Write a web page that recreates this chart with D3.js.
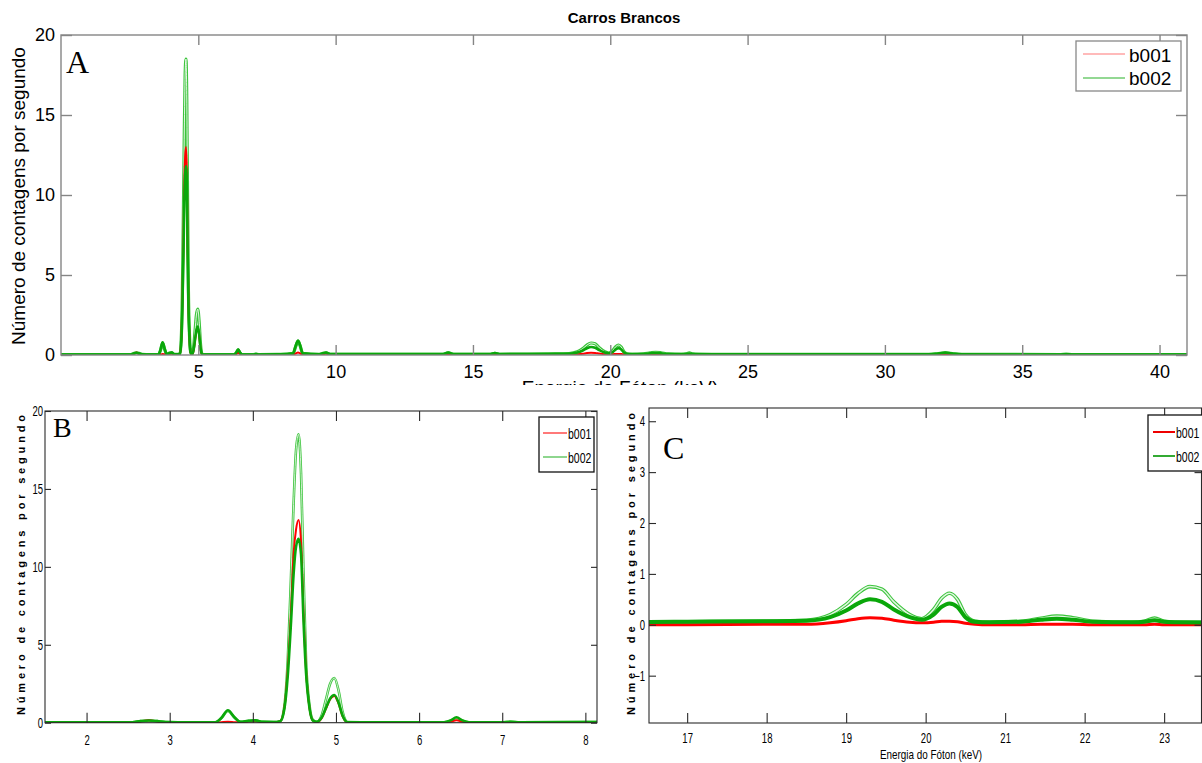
<!DOCTYPE html>
<html><head><meta charset="utf-8">
<script src="https://cdn.jsdelivr.net/npm/d3@7"></script>
<style>
body{margin:0;background:#fff;}
svg{display:block;}
</style></head><body>
<svg id="chart" width="1202" height="763"></svg>
<script>
// ---------- data ----------
const energyKeV = [0,1.0,2.0,2.55,2.65,2.75,2.85,2.95,3.1,3.55,
  3.62,3.7,3.78,3.85,3.95,4.03,4.12,4.25,4.33,4.38,
  4.42,4.46,4.49,4.52,4.55,4.58,4.61,4.64,4.68,4.72,
  4.77,4.83,4.88,4.93,4.98,5.03,5.08,5.14,5.3,6.3,
  6.38,6.45,6.52,6.6,7.0,7.1,7.2,8.0,8.45,8.55,
  8.63,8.71,8.8,9.4,9.55,9.65,9.8,12,13.9,14.1,
  14.3,15.6,15.8,16.0,17.0,18.0,18.5,18.8,19.0,19.15,
  19.3,19.45,19.6,19.8,19.95,20.1,20.2,20.3,20.4,20.5,
  20.62,20.8,21.2,21.45,21.65,21.85,22.1,22.6,22.75,22.88,
  23.0,23.2,24,28,31.6,31.9,32.2,32.5,32.8,36.4,
  36.6,36.8,41];

const b001Main = [0.0,0.0,0.0,0.0,0.08,0.15,0.08,0.01,0.0,0.0,
  0.03,0.06,0.03,0.01,0.07,0.1,0.02,0.01,0.1,1.0,
  3.4,7.2,10.8,12.4,13.0,11.6,7.0,3.4,1.0,0.15,
  0.02,0.3,0.9,1.5,1.72,1.25,0.4,0.01,0.0,0.0,
  0.06,0.15,0.06,0.0,0.0,0.02,0.0,0.0,0.02,0.1,
  0.15,0.1,0.02,0.0,0.05,0.1,0.02,0.0,0.0,0.03,
  0.0,0.0,0.02,0.0,0.0,0.01,0.01,0.04,0.08,0.12,
  0.14,0.13,0.09,0.05,0.04,0.05,0.07,0.07,0.06,0.03,
  0.01,0.0,0.0,0.01,0.01,0.01,0.0,0.0,0.0,0.01,
  0.0,0.0,0.0,0.0,0.0,0.01,0.03,0.01,0.0,0.0,
  0.0,0.0,0.0];

const b002Main = [0.03,0.03,0.03,0.03,0.10,0.14,0.10,0.04,0.03,0.03,
  0.30,0.80,0.35,0.05,0.12,0.15,0.05,0.04,0.10,0.9,
  3.0,6.5,9.5,11.3,11.8,10.8,6.5,3.2,1.0,0.15,
  0.05,0.35,0.95,1.55,1.78,1.30,0.45,0.03,0.03,0.03,
  0.15,0.35,0.15,0.03,0.03,0.06,0.03,0.04,0.10,0.60,
  0.90,0.60,0.10,0.04,0.12,0.15,0.05,0.05,0.05,0.15,
  0.05,0.05,0.12,0.05,0.06,0.07,0.08,0.15,0.28,0.42,
  0.50,0.45,0.30,0.15,0.10,0.20,0.35,0.42,0.35,0.15,
  0.06,0.05,0.06,0.10,0.12,0.10,0.06,0.05,0.06,0.09,
  0.06,0.05,0.04,0.04,0.04,0.08,0.15,0.08,0.04,0.03,
  0.05,0.03,0.03];

const b002High = [0.03,0.03,0.03,0.03,0.10,0.14,0.10,0.04,0.03,0.03,
  0.28,0.75,0.32,0.05,0.12,0.15,0.05,0.04,0.10,1.1,
  4.0,9.5,14.0,17.5,18.5,16.0,9.5,4.0,1.2,0.2,
  0.05,0.5,1.5,2.5,2.87,2.1,0.7,0.04,0.03,0.03,
  0.12,0.30,0.12,0.03,0.03,0.05,0.03,0.04,0.10,0.55,
  0.85,0.55,0.10,0.04,0.10,0.13,0.05,0.05,0.05,0.14,
  0.05,0.05,0.11,0.05,0.06,0.07,0.09,0.2,0.4,0.62,
  0.75,0.70,0.45,0.2,0.12,0.3,0.52,0.62,0.5,0.2,
  0.07,0.05,0.07,0.13,0.17,0.14,0.07,0.05,0.07,0.13,
  0.07,0.05,0.04,0.04,0.04,0.08,0.14,0.08,0.04,0.03,
  0.05,0.03,0.03];

const seriesNames = ["b001", "b002"];
const chartTitle = "Carros Brancos";
const yLabelText = "Número de contagens por segundo";
const xLabelText = "Energia do Fóton (keV)";
const panelLetters = ["A", "B", "C"];
const ticksAx = [5,10,15,20,25,30,35,40];
const ticksAy = [0,5,10,15,20];
const ticksBx = [2,3,4,5,6,7,8];
const ticksBy = [0,5,10,15,20];
const ticksCx = [17,18,19,20,21,22,23];
const ticksCy = [-1,0,1,2,3,4];

// ---------- drawing ----------
const svg = d3.select("#chart");
const SANS = "'Liberation Sans', Arial, sans-serif";
const SERIF = "'Liberation Serif', 'Times New Roman', serif";
const fmt = d3.format("d");

function condense(sel, sx){
  sel.each(function(){
    const t = d3.select(this);
    const x = +t.attr("x") || 0;
    t.attr("x", 0).attr("transform", `translate(${x},0) scale(${sx},1)`);
  });
}

function panel(cfg){
  const x = d3.scaleLinear().domain(cfg.xd).range([cfg.l, cfg.r]);
  const y = d3.scaleLinear().domain(cfg.yd).range([cfg.b, cfg.t]);
  const clipId = "clip" + cfg.id;
  svg.append("clipPath").attr("id", clipId).append("rect")
    .attr("x", cfg.l).attr("y", cfg.t).attr("width", cfg.r - cfg.l).attr("height", cfg.b - cfg.t);
  const lineGen = d3.line().x((d,i) => x(energyKeV[i])).y(d => y(d)).curve(d3.curveMonotoneX);
  const plot = svg.append("g").attr("clip-path", `url(#${clipId})`);
  plot.append("path").attr("d", lineGen(b002High)).attr("fill","none")
    .attr("stroke", "#3bc43b").attr("stroke-width", cfg.hiW);
  plot.append("path").attr("d", lineGen(b002High)).attr("fill","none")
    .attr("stroke", "#fff").attr("stroke-width", cfg.hiInner).attr("stroke-opacity", 0.85);
  plot.append("path").attr("d", lineGen(b001Main)).attr("fill","none")
    .attr("stroke", "#ff0000").attr("stroke-width", cfg.redW).attr("stroke-linejoin","round");
  plot.append("path").attr("d", lineGen(b002Main)).attr("fill","none")
    .attr("stroke", "#0aa70a").attr("stroke-width", cfg.grW).attr("stroke-linejoin","round");

  const ax = svg.append("g").attr("class","axes");
  const tl = cfg.tick;
  const gb = ax.append("g").attr("transform", `translate(0,${cfg.b})`)
    .call(d3.axisBottom(x).tickValues(cfg.tx).tickFormat(fmt).tickSizeInner(-tl).tickSizeOuter(0).tickPadding(cfg.padX));
  ax.append("g").attr("transform", `translate(0,${cfg.t})`)
    .call(d3.axisTop(x).tickValues(cfg.tx).tickSizeInner(-tl).tickSizeOuter(0).tickFormat(""));
  const gl = ax.append("g").attr("transform", `translate(${cfg.l},0)`)
    .call(d3.axisLeft(y).tickValues(cfg.ty).tickFormat(fmt).tickSizeInner(-cfg.ytick).tickSizeOuter(0).tickPadding(cfg.padY));
  ax.append("g").attr("transform", `translate(${cfg.r},0)`)
    .call(d3.axisRight(y).tickValues(cfg.ty).tickSizeInner(-cfg.ytick).tickSizeOuter(0).tickFormat(""));
  ax.selectAll(".domain").remove();
  ax.selectAll("line").attr("stroke", cfg.axisColor).attr("stroke-width", cfg.axisW);
  ax.selectAll("text").attr("font-family", SANS).attr("font-size", cfg.fs).attr("fill", "#000");
  if (cfg.sx) { condense(gb.selectAll("text"), cfg.sx); condense(gl.selectAll("text"), cfg.sx); }
  svg.append("rect").attr("x", cfg.l).attr("y", cfg.t).attr("width", cfg.r - cfg.l).attr("height", cfg.b - cfg.t)
    .attr("fill","none").attr("stroke", cfg.axisColor).attr("stroke-width", cfg.axisW);
  return {x, y};
}

// ---- Panel A ----
panel({id:"A", l:61, r:1187, t:35, b:355, xd:[0,41], yd:[0,20], tx:ticksAx, ty:ticksAy,
  tick:10, ytick:11, padX:10, padY:6, fs:18, axisColor:"#858585", axisW:1.4,
  hiW:3.2, hiInner:1.0, redW:2, grW:2.6});

svg.append("text").attr("x", 624).attr("y", 23).attr("text-anchor","middle")
  .attr("font-family", SANS).attr("font-weight","bold").attr("font-size", 15).text(chartTitle);
svg.append("text").attr("transform","translate(18,196) rotate(-90)").attr("text-anchor","middle")
  .attr("dominant-baseline","central").attr("font-family", SANS).attr("font-size", 19).text(yLabelText);
svg.append("text").attr("x", 620).attr("y", 394).attr("text-anchor","middle")
  .attr("font-family", SANS).attr("font-size", 19).text(xLabelText);
svg.append("text").attr("x", 66).attr("y", 73).attr("font-family", SERIF).attr("font-size", 32).text(panelLetters[0]);

// legend A
const legA = svg.append("g");
legA.append("rect").attr("x",1076).attr("y",41).attr("width",105).attr("height",50)
  .attr("fill","#fff").attr("stroke","#888").attr("stroke-width",1.3);
[["#ffa3a3",54,61.5],["#6fcb6f",78,85]].forEach((e,i)=>{
  legA.append("line").attr("x1",1083).attr("x2",1125).attr("y1",e[1]).attr("y2",e[1])
    .attr("stroke",e[0]).attr("stroke-width",1.6);
  legA.append("text").attr("x",1129).attr("y",e[2]).attr("font-family",SANS).attr("font-size",19).text(seriesNames[i]);
});

// white backing for the lower panels (clips panel A's x-axis title)
svg.append("rect").attr("x",0).attr("y",385).attr("width",1202).attr("height",378).attr("fill","#fff");

// ---- Panel B ----
panel({id:"B", l:45, r:597, t:411, b:722.7, xd:[1.5,8.14], yd:[0,20], tx:ticksBx, ty:ticksBy,
  tick:10, ytick:6, padX:12, padY:2, fs:14, sx:0.68, axisColor:"#2a2a2a", axisW:1.1,
  hiW:2.6, hiInner:0.9, redW:2, grW:2.6});
svg.append("text").attr("transform","translate(21,565) rotate(-90)").attr("text-anchor","middle")
  .attr("dominant-baseline","central").attr("font-family", SANS).attr("font-weight","bold")
  .attr("font-size", 11).attr("textLength", 300).attr("lengthAdjust","spacing").text(yLabelText);
svg.append("text").attr("x", 53).attr("y", 437).attr("font-family", SERIF).attr("font-size", 28).text(panelLetters[1]);

const legB = svg.append("g");
legB.append("rect").attr("x",539).attr("y",417).attr("width",55).attr("height",55)
  .attr("fill","#fff").attr("stroke","#111").attr("stroke-width",1.3);
[["#ff2020",433,439],["#44bb44",457,463]].forEach((e,i)=>{
  legB.append("line").attr("x1",543).attr("x2",567).attr("y1",e[1]).attr("y2",e[1])
    .attr("stroke",e[0]).attr("stroke-width",1.2);
  legB.append("text").attr("transform",`translate(568,${e[2]}) scale(0.75,1)`)
    .attr("font-family",SANS).attr("font-size",14).text(seriesNames[i]);
});

// ---- Panel C ----
panel({id:"C", l:649, r:1201.5, t:408, b:723, xd:[16.52,23.47], yd:[-1.93,4.26], tx:ticksCx, ty:ticksCy,
  tick:10, ytick:7, padX:10, padY:4, fs:14, sx:0.68, axisColor:"#2a2a2a", axisW:1.1,
  hiW:3.6, hiInner:1.5, redW:3, grW:4});
svg.append("text").attr("transform","translate(630.5,564) rotate(-90)").attr("text-anchor","middle")
  .attr("dominant-baseline","central").attr("font-family", SANS).attr("font-weight","bold")
  .attr("font-size", 11).attr("textLength", 302).attr("lengthAdjust","spacing").text(yLabelText);
svg.append("text").attr("x", 931).attr("y", 759).attr("text-anchor","middle")
  .attr("font-family", SANS).attr("font-size", 13).attr("textLength",102).attr("lengthAdjust","spacingAndGlyphs")
  .text(xLabelText);
svg.append("text").attr("x", 663).attr("y", 459).attr("font-family", SERIF).attr("font-size", 32).text(panelLetters[2]);

const legC = svg.append("g");
legC.append("rect").attr("x",1148).attr("y",415).attr("width",60).attr("height",56)
  .attr("fill","#fff").attr("stroke","#111").attr("stroke-width",1.3);
[["#ee0000",432,438],["#33aa33",456,462]].forEach((e,i)=>{
  legC.append("line").attr("x1",1153).attr("x2",1175).attr("y1",e[1]).attr("y2",e[1])
    .attr("stroke",e[0]).attr("stroke-width",2);
  legC.append("text").attr("transform",`translate(1176,${e[2]}) scale(0.75,1)`)
    .attr("font-family",SANS).attr("font-size",14).text(seriesNames[i]);
});
</script>
</body></html>
